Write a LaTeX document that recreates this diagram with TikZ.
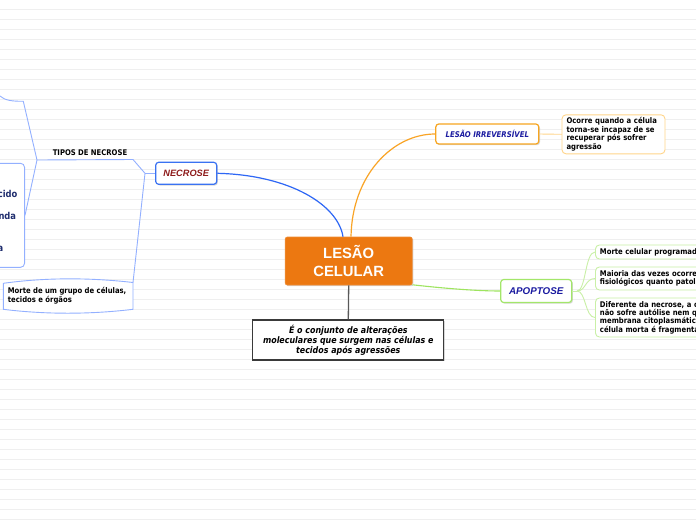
\documentclass[tikz,border=0pt]{standalone}
\usepackage{fontspec}
\newfontfamily\dv[FakeStretch=0.88]{DejaVu Sans}
\newfontfamily\lib{Liberation Sans}
\usetikzlibrary{shadows}
\definecolor{orangeC}{HTML}{EC7811}
\definecolor{irrBorder}{HTML}{F7A520}
\definecolor{irrDesc}{HTML}{FFD58A}
\definecolor{orangeLine}{HTML}{F9A426}
\definecolor{blueMain}{HTML}{2E67F5}
\definecolor{blueNode}{HTML}{3A72F2}
\definecolor{blueLight}{HTML}{93B0FF}
\definecolor{greenLine}{HTML}{9EE45F}
\definecolor{greenNode}{HTML}{A3E66A}
\definecolor{greenLight}{HTML}{C9F0A6}
\definecolor{navy}{HTML}{1A1AA0}
\definecolor{navyDark}{HTML}{1F2D6E}
\definecolor{darkRed}{HTML}{8E1B1B}
\definecolor{ruleLine}{HTML}{EFEFEF}
\definecolor{boxGray}{HTML}{3A3A3A}
\tikzset{
  smalltext/.style={font=\dv\bfseries\fontsize{7.8}{8.4}\selectfont, text=black},
  shadowed/.style={drop shadow={shadow xshift=1.2pt, shadow yshift=-1.2pt, fill=black!30}},
  centralbox/.style={fill=orangeC, draw=orangeC!85!white, line width=0.6pt, rounded corners=2pt,
    minimum width=127pt, minimum height=48pt, inner sep=0pt, align=center, text=white,
    font=\lib\bfseries\fontsize{14.8}{17.5}\selectfont, shadowed},
  descbox/.style={fill=white, draw=boxGray, line width=1.3pt, minimum width=191pt, minimum height=40pt,
    inner sep=0pt, align=center, font=\dv\bfseries\itshape\fontsize{9}{10}\selectfont, shadowed},
  topicbox/.style={fill=white, line width=1.2pt, rounded corners=3pt, inner sep=0pt, shadowed},
  leafbox/.style={fill=white, line width=0.9pt, rounded corners=4pt, smalltext, align=left, inner xsep=4.5pt, inner ysep=0pt},
  blueline/.style={draw=blueMain, line width=1.2pt},
  bluethin/.style={draw=blueLight, line width=0.9pt},
  orangeline/.style={draw=orangeLine, line width=1.2pt},
  orangethin/.style={draw=irrDesc, line width=0.9pt},
  greenline/.style={draw=greenLine, line width=1.1pt},
  greenthin/.style={draw=greenLight, line width=0.9pt},
  grayline/.style={draw=black!65, line width=1.3pt},
  navyfrag/.style={font=\dv\bfseries\fontsize{9.5}{11}\selectfont, text=navyDark, inner sep=0pt, anchor=east}
}
\begin{document}
\begin{tikzpicture}[x=1pt,y=-1pt]
\useasboundingbox (0,0) rectangle (696,520);
\begin{scope}
\clip (0,0) rectangle (696,520);
\fill[white] (0,0) rectangle (696,520);
\foreach \k in {0,...,51} \draw[ruleLine, line width=0.8pt] (0,{9.5+10*\k}) -- (696,{9.5+10*\k});

% central
\node[centralbox] (lc) at (348.7,261) {LESÃO\\CELULAR};
\node[descbox] (ld) at (348.3,340) {É o conjunto de alterações\\moleculares que surgem nas células e\\tecidos após agressões};
\draw[grayline] (lc.south) -- (ld.north);

% necrose
\node[topicbox, draw=blueNode, minimum width=61pt, minimum height=22pt, text=darkRed,
  font=\lib\bfseries\itshape\fontsize{9.2}{11}\selectfont] (nec) at (186.2,173.3) {NECROSE};
\draw[blueline] (nec.east) .. controls (290,175) and (338,205) .. ([xshift=-5.7pt]lc.north);

% lesao irreversivel
\node[topicbox, draw=irrBorder, minimum width=103pt, minimum height=20pt, text=navy,
  font=\dv\bfseries\itshape\fontsize{7.9}{9}\selectfont] (irr) at (487.3,134) {LESÃO IRREVERSÍVEL};
\draw[orangeline] (irr.west) .. controls (392,134) and (352,176) .. ([xshift=2.3pt]lc.north);
\node[leafbox, draw=irrDesc, text width=94pt, minimum height=39pt] (irrd) at (613.5,134.3)
  {Ocorre quando a célula\\torna-se incapaz de se\\recuperar pós sofrer\\agressão};
\draw[orangethin] (irr.east) -- (irrd.west);

% apoptose
\node[topicbox, draw=greenNode, minimum width=71pt, minimum height=23pt, text=navy,
  font=\lib\bfseries\itshape\fontsize{9.8}{11}\selectfont] (apo) at (536.2,291) {APOPTOSE};
\draw[greenline] ([yshift=0.5pt]lc.south east) .. controls (450,289) and (480,291) .. (apo.west);
\node[leafbox, draw=greenLight, anchor=west, text width=140pt, minimum height=14pt] (ap1) at (595,252)
  {Morte celular programad};
\node[leafbox, draw=greenLight, anchor=west, text width=140pt, minimum height=23pt] (ap2) at (595,278.5)
  {Maioria das vezes ocorre\\fisiológicos quanto patol};
\node[leafbox, draw=greenLight, anchor=west, text width=140pt, minimum height=39pt] (ap3) at (595,317.5)
  {Diferente da necrose, a c\\não sofre autólise nem q\\membrana citoplasmátic\\célula morta é fragmenta};
\coordinate (aph) at (577,291);
\draw[greenthin] (apo.east) -- (aph);
\draw[greenthin] (aph) .. controls (586,291) and (585,252) .. (ap1.west);
\draw[greenthin] (aph) .. controls (586,291) and (585,278.5) .. (ap2.west);
\draw[greenthin] (aph) .. controls (586,291) and (585,317.5) .. (ap3.west);

% necrose children
\coordinate (nh) at (145,173.3);
\coordinate (tipR) at (133,159.5);
\coordinate (tipL) at (37,160);
\coordinate (upEnd) at (23.3,101.3);
\coordinate (upFar) at (0,96);
\coordinate (morteTR) at (133,282.5);
\node[smalltext, inner sep=0pt] (tipos) at (90,152.3) {TIPOS DE NECROSE};
\draw[bluethin] (nec.west) -- (nh);
\draw[bluethin] (nh) -- (tipR) -- (tipL);
\draw[bluethin] (nh) -- (morteTR);
\draw[bluethin] (tipL) -- (upEnd) .. controls (12,101.3) and (5,100.5) .. (upFar);

% left box (cut off)
\node[draw=blueLight, line width=0.9pt, fill=white, rounded corners=4pt, anchor=east,
  minimum width=80pt, minimum height=104pt, inner sep=0pt] (lb) at (25,215.3) {};
\draw[bluethin] (tipL) -- (lb.east);
\node[navyfrag] (f1) at (17.6,193.7) {cido};
\node[navyfrag] (f2) at (16.3,216) {nda};
\node[navyfrag] (f3) at (3.5,249) {a};

% morte bubble
\draw[draw=blueLight, line width=0.9pt, fill=white]
  (3.3,283.3) .. controls (45,277.5) and (90,277.5) .. (morteTR) -- (133,309.3)
  .. controls (90,314.5) and (45,314.5) .. (3.3,309.3) -- cycle;
\node[smalltext, anchor=west, align=left, inner sep=0pt,
  font=\dv\bfseries\fontsize{7.8}{9}\selectfont] (morte) at (7.7,296.2)
  {Morte de um grupo de células,\\tecidos e órgãos};
\end{scope}
\end{tikzpicture}
\end{document}
